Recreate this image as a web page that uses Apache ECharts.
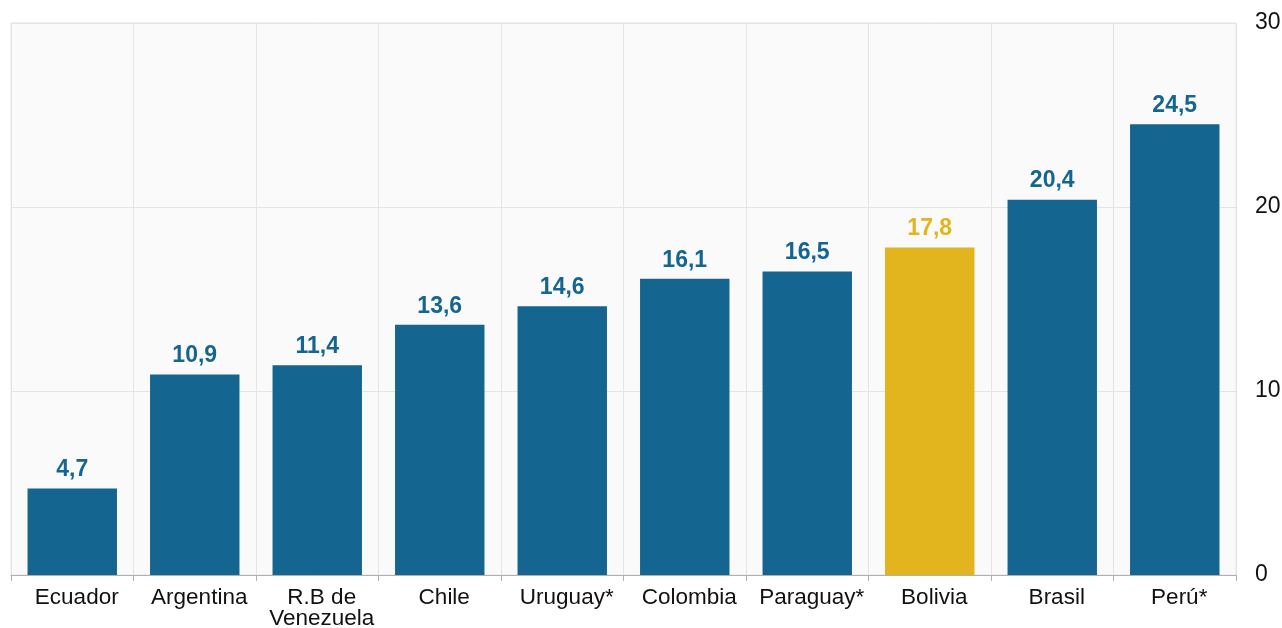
<!DOCTYPE html>
<html><head><meta charset="utf-8">
<script src="https://cdn.jsdelivr.net/npm/echarts@6/dist/echarts.min.js"></script>
<style>html,body{margin:0;padding:0;background:#fff}#c{width:1282px;height:628px}</style>
</head><body><div id="c"></div>
<script>
const categories = ['Ecuador','Argentina','R.B de\nVenezuela','Chile','Uruguay*','Colombia','Paraguay*','Bolivia','Brasil','Perú*'];
const values = [4.7, 10.9, 11.4, 13.6, 14.6, 16.1, 16.5, 17.8, 20.4, 24.5];
const highlight = 'Bolivia';
const yTicks = [0, 10, 20, 30];
const BLUE = '#156591', GOLD = '#E2B41E';
const FONT = 'Liberation Sans, Arial, sans-serif';
const chart = echarts.init(document.getElementById('c'), null, {renderer:'canvas'});
chart.setOption({
  animation:false,
  backgroundColor:'#fff',
  grid:{left:11,right:46,top:23,bottom:53,show:true,backgroundColor:'#fafafa',borderColor:'#e4e4e4',borderWidth:1,containLabel:false,outerBoundsMode:'none'},
  xAxis:{type:'category',data:categories,
    axisLine:{show:true,lineStyle:{color:'#b0b0b0',width:1}},
    axisTick:{show:true,length:6,lineStyle:{color:'#b0b0b0'}},
    splitLine:{show:true,lineStyle:{color:'#e4e4e4',width:1}},
    axisLabel:{color:'#111',fontSize:22.5,fontFamily:FONT,margin:12,lineHeight:21,interval:0,padding:[0,0,0,9]}},
  yAxis:{type:'value',position:'right',min:yTicks[0],max:yTicks[yTicks.length-1],interval:10,
    axisLine:{show:false},axisTick:{show:false},
    splitLine:{show:true,lineStyle:{color:'#e4e4e4',width:1}},
    axisLabel:{color:'#111',fontSize:23,fontFamily:FONT,margin:19,align:'left'}},
  series:[{type:'bar',barWidth:'73%',
    data:values.map((v,i)=>{const c = categories[i]===highlight?GOLD:BLUE; return {value:v,itemStyle:{color:c},label:{color:c}};}),
    label:{show:true,position:'top',distance:7,fontSize:23,fontWeight:'bold',fontFamily:FONT,
      formatter:p=>p.value.toFixed(1).replace('.',',')}}]
});
</script></body></html>
